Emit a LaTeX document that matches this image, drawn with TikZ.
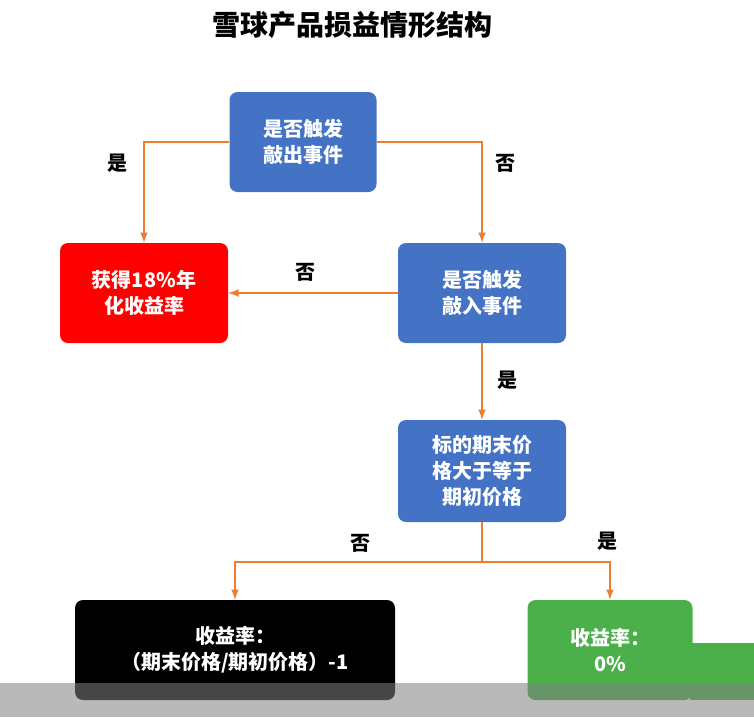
\documentclass[tikz,border=0pt]{standalone}
\usepackage{fontspec}
\setmainfont{Noto Sans CJK SC}
\usepackage{tikz}
\usetikzlibrary{positioning}
\definecolor{boxblue}{HTML}{4472C4}
\definecolor{boxred}{HTML}{FF0000}
\definecolor{boxgreen}{HTML}{4CB04A}
\definecolor{arrorange}{HTML}{ED7D31}
\tikzset{
  box/.style={draw=none,rounded corners=8pt,text=white,align=center,
    font=\fontsize{20}{26}\selectfont\bfseries,inner sep=0pt},
  arr/.style={draw=arrorange,line width=2.5pt,-latex},
  lab/.style={font=\fontsize{20}{24}\selectfont\bfseries}
}
\begin{document}
\begin{tikzpicture}[x=1pt,y=-1pt]

    \useasboundingbox (0,0) rectangle (754,717);

    \node[font=\fontsize{28}{32}\selectfont\bfseries] (title) at (352,25) {雪球产品损益情形结构};

    \node[box,fill=boxblue,minimum width=147pt,minimum height=100pt] (knockout) at (303,142) {是否触发\\敲出事件};

    \node[box,fill=boxred,minimum width=168pt,minimum height=100pt] (gain) at (144,293) {获得18\%年\\化收益率};

    \node[box,fill=boxblue,minimum width=168pt,minimum height=100pt] (knockin) at (482,293) {是否触发\\敲入事件};

    \node[box,fill=boxblue,minimum width=168pt,minimum height=102pt] (compare) at (482,471) {标的期末价\\格大于等于\\期初价格};

    \node[box,fill=black,minimum width=320pt,minimum height=100pt] (loss) at (235,650) {收益率：\\（期末价格/期初价格）-1};

    \node[box,fill=boxgreen,minimum width=165pt,minimum height=100pt] (zero) at (610,650) {收益率：\\0\%};

    \coordinate (split) at (482,562);

    \draw[arr] (knockout.west) -| (gain.north);
    \node[lab] (lyes1) at (117,163) {是};

    \draw[arr] (knockout.east) -| (knockin.north);
    \node[lab] (lno1) at (505,163) {否};

    \draw[arr] (knockin.west) -- (gain.east);
    \node[lab] (lno2) at (305,272) {否};

    \draw[arr] (knockin.south) -- (compare.north);
    \node[lab] (lyes2) at (507,380) {是};

    \draw[draw=arrorange,line width=2.5pt] (compare.south) -- (split);
    \draw[arr] (split) -| (loss.north);
    \draw[arr] (split) -| (zero.north);
    \node[lab] (lno3) at (360,543) {否};
    \node[lab] (lyes3) at (607,541) {是};

    % overlay at the bottom edge
    \fill[boxgreen] (690,643) rectangle (754,700);
    \fill[gray,opacity=0.55] (0,683) rectangle (754,717);

\end{tikzpicture}
\end{document}
